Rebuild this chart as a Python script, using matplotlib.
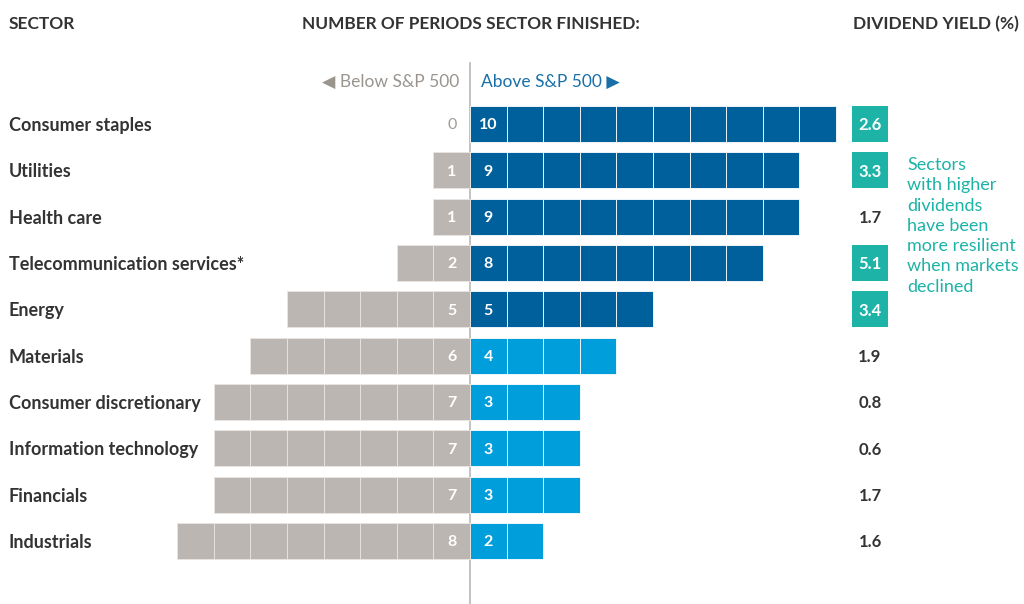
import matplotlib.pyplot as plt

sectors = ["Consumer staples", "Utilities", "Health care", "Telecommunication services*",
           "Energy", "Materials", "Consumer discretionary", "Information technology",
           "Financials", "Industrials"]
below = [0, 1, 1, 2, 5, 6, 7, 7, 7, 8]
above = [10, 9, 9, 8, 5, 4, 3, 3, 3, 2]
div_yield = [2.6, 3.3, 1.7, 5.1, 3.4, 1.9, 0.8, 0.6, 1.7, 1.6]
dark_rows = 5  # first five sectors drawn in dark blue

GRAY = "#bcb6b2"
DARK = "#00609c"
LIGHT = "#009fdb"
TEAL = "#1db3a7"
TXT = "#333333"

plt.rcParams['font.family'] = ['Lato', 'DejaVu Sans']

fig = plt.figure(figsize=(10.24, 6.04), dpi=100)
ax = fig.add_axes([0, 0, 1, 1])
unit = 36.6   # px per period
row = 46.33   # px per row
ax.set_xlim(-470 / unit, (1024 - 470) / unit)
ax.set_ylim((604 - 124) / row, -124 / row)
ax.axis('off')

h = 0.78
dy = 0.03  # small nudge so text sits on the bar middle
for i, s in enumerate(sectors):
    col = DARK if i < dark_rows else LIGHT
    for k in range(above[i]):
        ax.barh(i, 1, left=k, height=h, color=col, edgecolor="#ffffff", linewidth=0.6)
    for k in range(below[i]):
        ax.barh(i, -1, left=-k, height=h, color=GRAY, edgecolor="#e8e5e3", linewidth=0.6)
    ax.text(0.5, i + dy, str(above[i]), color="white", ha='center', va='center',
            fontsize=11.5, fontweight='bold')
    ax.text(-0.5, i + dy, str(below[i]), color="white" if below[i] else "#a09a96",
            ha='center', va='center', fontsize=11.5, fontweight='bold' if below[i] else 'normal')
    ax.text(-12.6, i + dy, s, ha='left', va='center', fontsize=13, fontweight='bold', color=TXT)
    # dividend yield
    dx = (870 - 470) / unit
    if div_yield[i] > 2:
        ax.barh(i, 1.0, left=dx - 0.5, height=h, color=TEAL)
        ax.text(dx, i + dy, f"{div_yield[i]:.1f}", ha='center', va='center', color='white',
                fontsize=12, fontweight='bold')
    else:
        ax.text(dx, i + dy, f"{div_yield[i]:.1f}", ha='center', va='center', color=TXT,
                fontsize=12, fontweight='bold')

# center line
ax.plot([0, 0], [-1.32, 10.4], color="#b8b8b8", lw=1.2, zorder=0)

hy = (24 - 124) / row
ax.text(-12.6, hy, "SECTOR", ha='left', va='center', fontsize=12.5, fontweight='bold', color=TXT)
ax.text(0.03, hy, "NUMBER OF PERIODS SECTOR FINISHED:", ha='center', va='center',
        fontsize=12.4, fontweight='bold', color=TXT)
ax.text((936 - 470) / unit, hy, "DIVIDEND YIELD (%)", ha='center', va='center',
        fontsize=12.5, fontweight='bold', color=TXT)

ly = (82 - 124) / row
ax.text(-0.3, ly, "\u25c0 Below S&P 500", ha='right', va='center', fontsize=12.5, color="#9a948f")
ax.text(0.3, ly, "Above S&P 500 \u25b6", ha='left', va='center', fontsize=12.5, color="#1a6fa8")

ax.text((907 - 470) / unit, (157 - 124) / row,
        "Sectors\nwith higher\ndividends\nhave been\nmore resilient\nwhen markets\ndeclined",
        ha='left', va='top', fontsize=13, color=TEAL, linespacing=1.33)

fig.savefig("out.png", dpi=100)
